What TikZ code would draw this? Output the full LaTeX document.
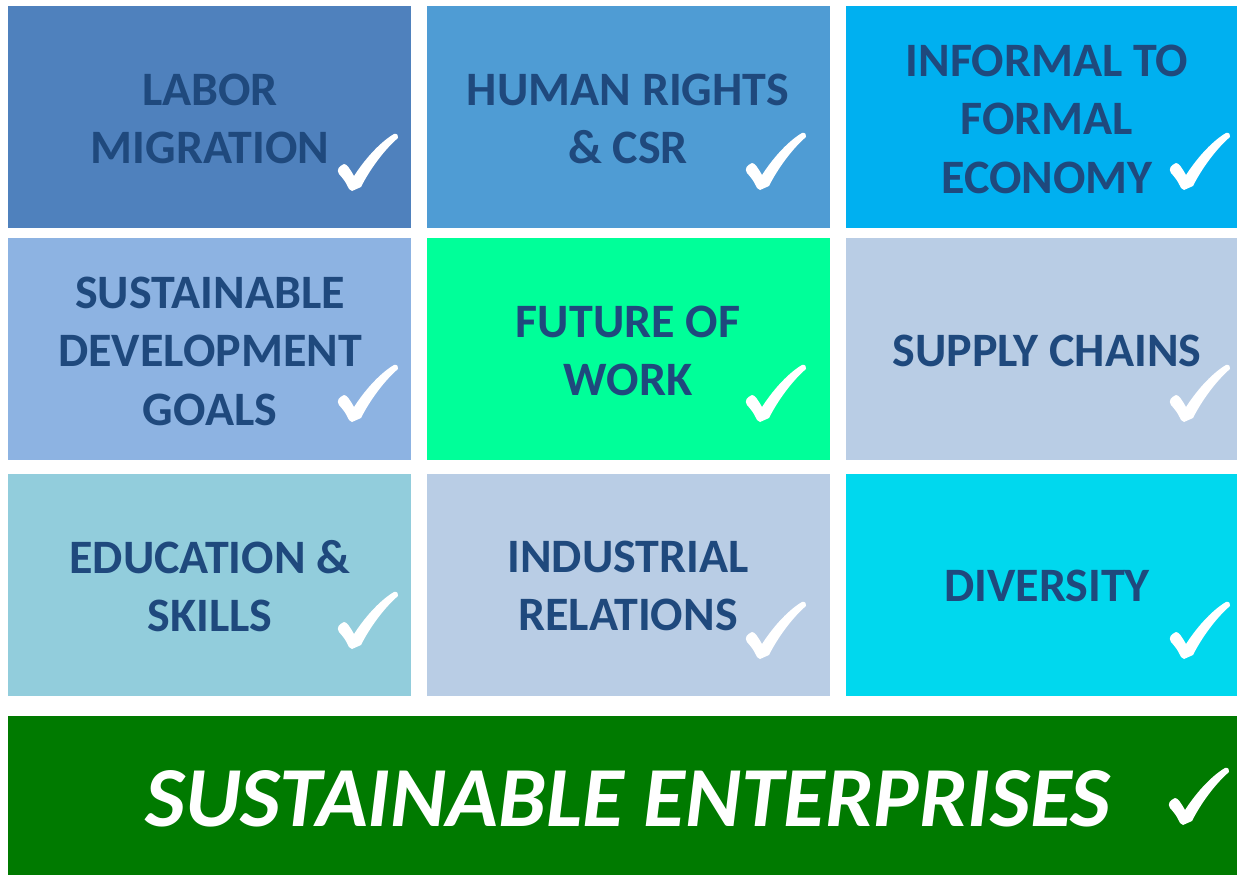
\documentclass[tikz,border=0pt]{standalone}
\usepackage{fontspec}
\setmainfont{Carlito}
\definecolor{txtblue}{HTML}{1F497D}
\definecolor{cA}{HTML}{4F81BD}
\definecolor{cB}{HTML}{4F9CD4}
\definecolor{cC}{HTML}{00B0F0}
\definecolor{cD}{HTML}{8DB3E2}
\definecolor{cE}{HTML}{00FF99}
\definecolor{cF}{HTML}{B9CDE5}
\definecolor{cG}{HTML}{92CDDC}
\definecolor{cH}{HTML}{B9CDE5}
\definecolor{cI}{HTML}{00D8EE}
\definecolor{cGreen}{HTML}{007A00}
\tikzset{
  tile/.style={fill=#1, draw=none},
  tiletext/.style={text=txtblue, align=center, inner sep=0pt,
    font=\fontsize{48}{58.5}\selectfont\bfseries},
  checkmark/.pic={\fill[white] (0,0) -- (-3,-2) .. controls (-7,-10) .. (-13,-17) .. controls (-16,-21) and (-13,-25) .. (-8,-27) .. controls (-5,-27) and (-2,-22) .. (2,-15) .. controls (15,-35) and (30,-50) .. (42,-57) .. controls (45,-58) and (47,-55) .. (46,-53) .. controls (33,-42) and (18,-22) .. (9,-4) -- cycle;}
}
\begin{document}
\begin{tikzpicture}[x=1pt,y=-1pt]
\useasboundingbox (0,0) rectangle (1237,875);
% tiles
\fill[tile=cA] (8,6) rectangle (411,228);
\fill[tile=cB] (427,6) rectangle (830,228);
\fill[tile=cC] (846,6) rectangle (1237,228);
\fill[tile=cD] (8,238) rectangle (411,460);
\fill[tile=cE] (427,238) rectangle (830,460);
\fill[tile=cF] (846,238) rectangle (1237,460);
\fill[tile=cG] (8,474) rectangle (411,696);
\fill[tile=cH] (427,474) rectangle (830,696);
\fill[tile=cI] (846,474) rectangle (1237,696);
\fill[tile=cGreen] (8,716) rectangle (1237,875);
% texts
\node[tiletext] (t1) at (210,119) {LABOR\\MIGRATION};
\node[tiletext] (t2) at (628,119) {HUMAN RIGHTS\\\& CSR};
\node[tiletext] (t3) at (1047,119) {INFORMAL TO\\FORMAL\\ECONOMY};
\node[tiletext] (t4) at (210,351) {SUSTAINABLE\\DEVELOPMENT\\GOALS};
\node[tiletext] (t5) at (628,351) {FUTURE OF\\WORK};
\node[tiletext] (t6) at (1047,351) {SUPPLY CHAINS};
\node[tiletext] (t7) at (210,586) {EDUCATION \&\\SKILLS};
\node[tiletext] (t8) at (628,586) {INDUSTRIAL\\RELATIONS};
\node[tiletext] (t9) at (1047,586) {DIVERSITY};
\node[text=white, inner sep=0pt, font=\fontsize{85.5}{100}\selectfont\bfseries\itshape] (t10) at (628,799) {SUSTAINABLE ENTERPRISES};
% checks
\pic at (352,191) {checkmark};
\pic at (760,190) {checkmark};
\pic at (1184,190) {checkmark};
\pic at (352,422) {checkmark};
\pic at (760,422) {checkmark};
\pic at (1184,422) {checkmark};
\pic at (352,649) {checkmark};
\pic at (760,659) {checkmark};
\pic at (1184,659) {checkmark};
\pic at (1183,825) {checkmark};
\end{tikzpicture}
\end{document}
